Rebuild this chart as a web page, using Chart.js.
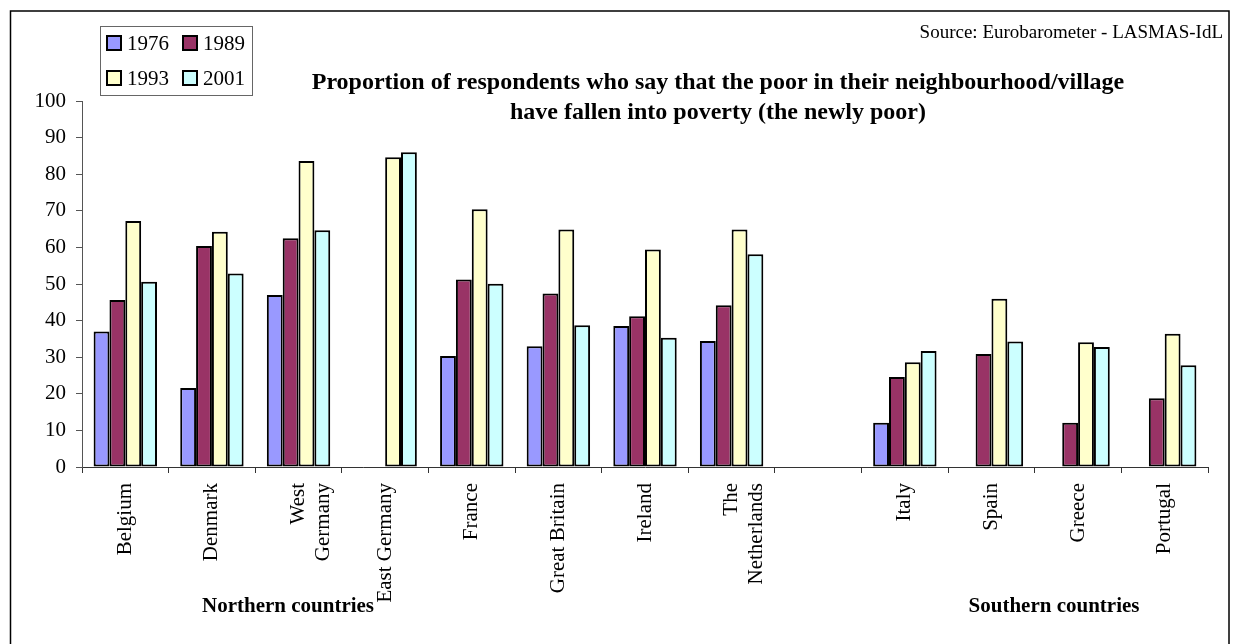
<!DOCTYPE html>
<html>
<head>
<meta charset="utf-8">
<script src="https://cdn.jsdelivr.net/npm/chart.js@4"></script>
<style>
  html, body { margin: 0; padding: 0; background: #fff; }
  #wrap { width: 1234px; height: 644px; }
</style>
</head>
<body>
<div id="wrap"><canvas id="poor"></canvas></div>
<script>
// values (% of respondents)
var countries = ["Belgium", "Denmark", ["West", "Germany"], "East Germany", "France",
	"Great Britain", "Ireland", ["The", "Netherlands"], "", "Italy", "Spain", "Greece", "Portugal"];
var years = ["1976", "1989", "1993", "2001"];
var v1976 = [37, 21.6, 47, null, 30.3, 33, 38.5, 34.4, null, 12.1, null, null, null];
var v1989 = [45.6, 60.4, 62.5, null, 51.2, 47.4, 41.2, 44.2, null, 24.6, 30.9, 12.1, 18.8];
var v1993 = [67.2, 64.3, 83.6, 84.6, 70.4, 64.9, 59.4, 64.9, null, 28.6, 46.0, 34.1, 36.4];
var v2001 = [50.6, 52.9, 64.7, 86.0, 50.1, 38.7, 35.3, 58.1, null, 31.7, 34.3, 32.8, 27.8];
var yTicks = [0, 10, 20, 30, 40, 50, 60, 70, 80, 90, 100];

var titleLines = ["Proportion of respondents who say that the poor in their neighbourhood/village",
	"have fallen into poverty (the newly poor)"];
var sourceText = "Source: Eurobarometer - LASMAS-IdL";
var groupNames = ["Northern countries", "Southern countries"];

var colors = ["#9999FF", "#993366", "#FFFFCC", "#CCFFFF"];
var serif = "'Liberation Serif', 'Times New Roman', serif";

function makeSet(label, data, color) {
	return {
		label: label,
		data: data,
		backgroundColor: color,
		borderColor: "#000",
		borderWidth: 2,
		borderSkipped: false,
		barPercentage: 1,
		categoryPercentage: 0.732,
	};
}

// title, source, group names, legend box and frame
var decor = {
	id: "decor",
	afterDraw: function (chart) {
		var c = chart.ctx;
		c.save();
		c.fillStyle = "#000";
		c.textBaseline = "middle";

		c.font = "bold 24px " + serif;
		c.textAlign = "center";
		c.fillText(titleLines[0], 718, 83);
		c.fillText(titleLines[1], 718, 113);

		c.font = "19px " + serif;
		c.textAlign = "right";
		c.fillText(sourceText, 1223, 33);

		c.font = "bold 21px " + serif;
		c.textAlign = "center";
		c.fillText(groupNames[0], 288, 607);
		c.fillText(groupNames[1], 1054, 607);

		// legend
		c.strokeStyle = "#666";
		c.lineWidth = 1;
		c.strokeRect(100.5, 26.5, 152, 69);
		var pos = [[107, 43], [183, 43], [107, 78], [183, 78]];
		c.font = "21px " + serif;
		c.textAlign = "left";
		chart.data.datasets.forEach(function (ds, i) {
			var p = pos[i];
			c.fillStyle = ds.backgroundColor;
			c.fillRect(p[0], p[1] - 7, 14, 14);
			c.strokeStyle = "#000";
			c.lineWidth = 2;
			c.strokeRect(p[0], p[1] - 7, 14, 14);
			c.fillStyle = "#000";
			c.fillText(ds.label, p[0] + 20, p[1] + 1);
		});

		// outer frame
		c.strokeStyle = "#000";
		c.lineWidth = 1.5;
		c.strokeRect(10.5, 11, 1218.5, 700);
		c.restore();
	},
};

const ctx = document.getElementById("poor");
const myChart = new Chart(ctx, {
	type: "bar",
	data: {
		labels: countries,
		datasets: [
			makeSet(years[0], v1976, colors[0]),
			makeSet(years[1], v1989, colors[1]),
			makeSet(years[2], v1993, colors[2]),
			makeSet(years[3], v2001, colors[3]),
		],
	},
	options: {
		responsive: true,
		maintainAspectRatio: false,
		animation: false,
		layout: { padding: { top: 101, left: 0, right: 26, bottom: 0 } },
		plugins: {
			legend: { display: false },
			title: { display: false },
			tooltip: { enabled: false },
		},
		scales: {
			x: {
				grid: { display: true, drawOnChartArea: false, drawTicks: true, tickLength: 6, color: "#333", offset: true },
				border: { color: "#333", width: 1 },
				ticks: {
					color: "#000",
					font: { family: serif, size: 21 },
					minRotation: 90,
					maxRotation: 90,
					autoSkip: false,
					padding: 10,
				},
				afterFit: function (scale) { scale.height = 177; },
			},
			y: {
				min: 0,
				max: 100,
				afterBuildTicks: function (scale) {
					scale.ticks = yTicks.map(function (v) { return { value: v }; });
				},
				grid: { display: true, drawOnChartArea: false, drawTicks: true, tickLength: 6, color: "#555" },
				border: { color: "#555", width: 1 },
				ticks: {
					color: "#000",
					font: { family: serif, size: 21 },
					padding: 10,
				},
				afterFit: function (scale) { scale.width = 82; },
			},
		},
	},
	plugins: [decor],
});
</script>
</body>
</html>
